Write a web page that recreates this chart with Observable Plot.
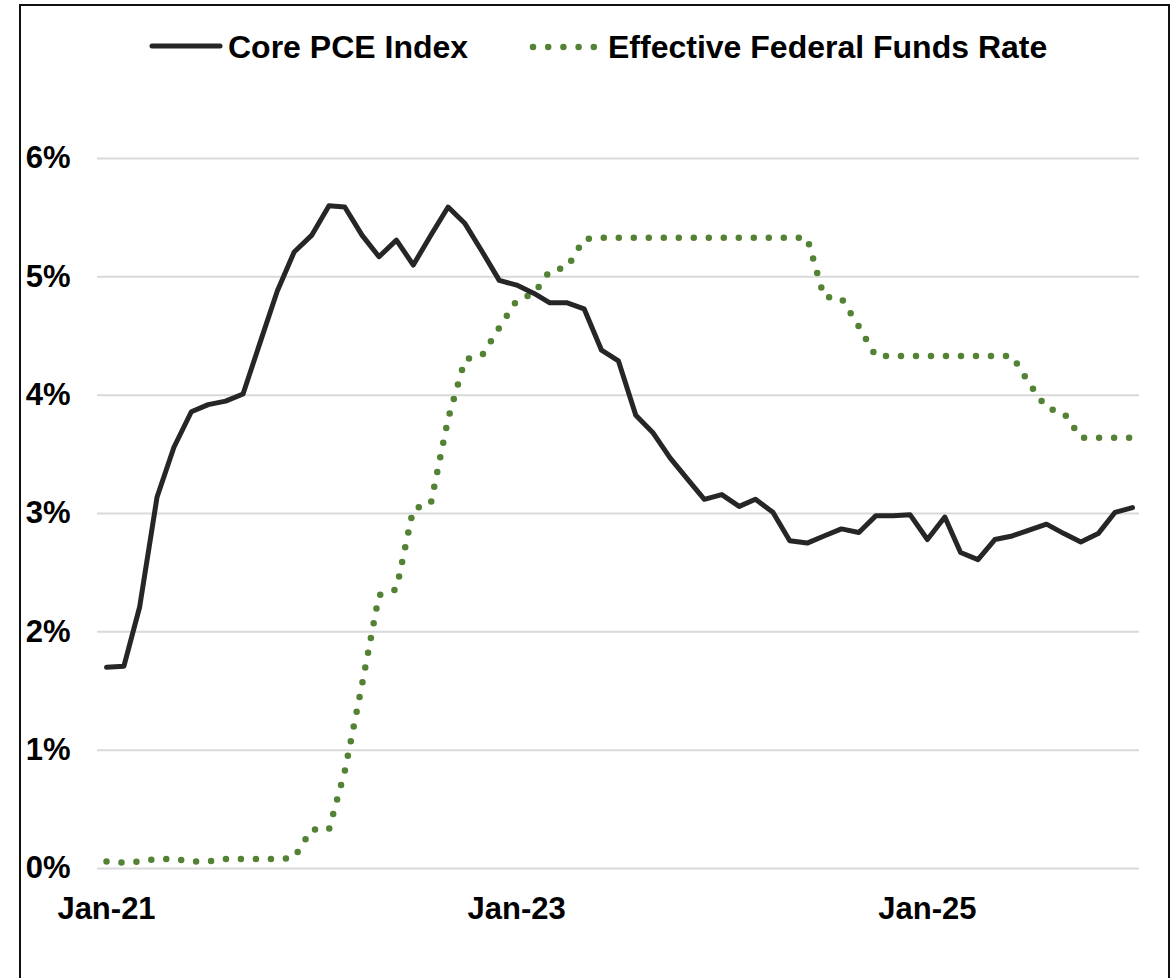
<!DOCTYPE html>
<html>
<head>
<meta charset="utf-8">
<script src="https://cdn.jsdelivr.net/npm/d3@7"></script>
<script src="https://cdn.jsdelivr.net/npm/@observablehq/plot@0.6"></script>
<style>
html, body { margin: 0; padding: 0; background: #fff; overflow: hidden; }
#wrap { position: relative; width: 1173px; height: 978px; font-family: "Liberation Sans", Arial, sans-serif; }
#frame { position: absolute; left: 19px; top: 4px; width: 1147px; height: 1000px; border: 2px solid #111; border-bottom: none; pointer-events: none; }
#legend { position: absolute; left: 0; top: 0; width: 1173px; height: 80px; }
.sw { position: absolute; }
.lt { position: absolute; font-weight: bold; font-size: 32px; line-height: 32px; color: #000; white-space: nowrap; }
#chart { position: absolute; left: 0; top: 80px; }
</style>
</head>
<body>
<div id="wrap">
  <div id="legend"></div>
  <div id="chart"></div>
  <div id="frame"></div>
</div>
<script>
// Monthly categories: Jan-21 .. Jan-26
const months = d3.utcMonth.range(new Date(Date.UTC(2021, 0, 1)), new Date(Date.UTC(2026, 1, 1)));

// Core PCE Index, year-over-year %
const corePCE = [
  1.70, 1.71, 2.21, 3.14, 3.56, 3.86, 3.92, 3.95, 4.01, 4.44, 4.88, 5.21,
  5.35, 5.60, 5.59, 5.35, 5.17, 5.31, 5.10, 5.35, 5.59, 5.45, 5.21, 4.97,
  4.93, 4.86, 4.78, 4.78, 4.73, 4.38, 4.29, 3.83, 3.68, 3.47, 3.29, 3.12,
  3.16, 3.06, 3.12, 3.01, 2.77, 2.75, 2.81, 2.87, 2.84, 2.98, 2.98, 2.99,
  2.78, 2.97, 2.67, 2.61, 2.78, 2.81, 2.86, 2.91, 2.83, 2.76, 2.83, 3.01,
  3.05
];

// Effective Federal Funds Rate, %
const fedFunds = [
  0.06, 0.05, 0.06, 0.08, 0.08, 0.06, 0.06, 0.08, 0.08, 0.08, 0.08, 0.09,
  0.33, 0.33, 0.82, 1.56, 2.31, 2.36, 3.04, 3.08, 3.80, 4.30, 4.34, 4.57,
  4.80, 4.86, 5.05, 5.08, 5.32, 5.33, 5.33, 5.33, 5.33, 5.33, 5.33, 5.33,
  5.33, 5.33, 5.33, 5.33, 5.33, 5.33, 4.83, 4.82, 4.58, 4.33, 4.33, 4.33,
  4.33, 4.33, 4.33, 4.33, 4.33, 4.33, 4.10, 3.89, 3.85, 3.64, 3.64, 3.64,
  3.64
];

const yTicks = [0, 1, 2, 3, 4, 5, 6];
const xTicks = [new Date(Date.UTC(2021, 0, 1)), new Date(Date.UTC(2023, 0, 1)), new Date(Date.UTC(2025, 0, 1))];
const seriesNames = ["Core PCE Index", "Effective Federal Funds Rate"];
const coreColor = "#262626";
const ffrColor = "#548235";

const coreData = months.map((d, i) => ({date: d, value: corePCE[i]}));
const ffrData = months.map((d, i) => ({date: d, value: fedFunds[i]}));

// Legend (HTML above chart)
const legend = document.getElementById("legend");
legend.innerHTML = `
  <svg class="sw" style="left:145px;top:40px" width="82" height="12">
    <line x1="7" y1="6" x2="75" y2="6" stroke="${coreColor}" stroke-width="5" stroke-linecap="round"/>
  </svg>
  <span class="lt" style="left:228px;top:31px">${seriesNames[0]}</span>
  <svg class="sw" style="left:526px;top:40px" width="76" height="14">
    <line x1="7" y1="7" x2="69" y2="7" stroke="${ffrColor}" stroke-width="6.5" stroke-linecap="round" stroke-dasharray="0 15.2"/>
  </svg>
  <span class="lt" style="left:608px;top:31px">${seriesNames[1]}</span>
`;

const fmt = d3.utcFormat("%b-%y");

const chart = Plot.plot({
  width: 1173,
  height: 898,
  marginLeft: 97,
  marginRight: 34,
  marginTop: 78,
  marginBottom: 110,
  insetLeft: 9,
  insetRight: 7,
  style: {
    fontFamily: "'Liberation Sans', Arial, sans-serif",
    fontSize: "31px",
    fontWeight: "bold",
    color: "#000",
    background: "transparent",
    overflow: "visible"
  },
  x: {type: "utc", domain: [months[0], months[months.length - 1]]},
  y: {domain: [0, 6]},
  marks: [
    Plot.ruleY(yTicks, {stroke: "#d9d9d9", strokeWidth: 2}),
    Plot.axisY(yTicks, {tickSize: 0, tickPadding: 27, tickFormat: d => d + "%", label: null, fontSize: 31, fontWeight: "bold", fill: "#000"}),
    Plot.axisX(xTicks, {tickSize: 0, tickPadding: 28, tickFormat: fmt, label: null, fontSize: 31, fontWeight: "bold", fill: "#000"}),
    Plot.line(ffrData, {x: "date", y: "value", stroke: ffrColor, strokeWidth: 6.5, strokeDasharray: "0 15", strokeLinecap: "round", strokeLinejoin: "round"}),
    Plot.line(coreData, {x: "date", y: "value", stroke: coreColor, strokeWidth: 5, strokeLinecap: "round", strokeLinejoin: "round"})
  ]
});
document.getElementById("chart").appendChild(chart);
</script>
</body>
</html>
